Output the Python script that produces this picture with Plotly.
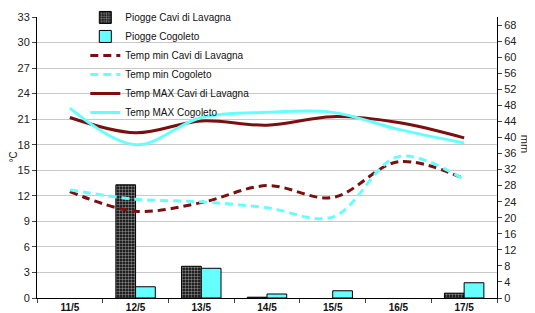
import plotly.graph_objects as go

days = ["11/5", "12/5", "13/5", "14/5", "15/5", "16/5", "17/5"]
rain_lavagna = [None, 28.2, 7.9, 0.2, None, None, 1.2]
rain_cogoleto = [None, 2.8, 7.4, 1.0, 1.8, None, 3.8]
tmin_lavagna = [12.5, 10.2, 11.2, 13.2, 11.8, 16.0, 14.0]
tmin_cogoleto = [12.7, 11.6, 11.3, 10.6, 9.5, 16.6, 13.9]
tmax_lavagna = [21.2, 19.4, 20.8, 20.3, 21.3, 20.6, 18.8]
tmax_cogoleto = [22.3, 18.0, 21.2, 21.8, 21.8, 19.8, 18.2]

RED = "#7b0f0f"
CYAN = "#66ffff"

fig = go.Figure()
fig.add_trace(go.Bar(x=days, y=rain_lavagna, name="Piogge Cavi di Lavagna", yaxis="y",
                     marker=dict(color="black", line=dict(color="black", width=1),
                                 pattern=dict(shape=".", bgcolor="black", fgcolor="white",
                                              size=3, solidity=0.5))))
fig.add_trace(go.Bar(x=days, y=rain_cogoleto, name="Piogge Cogoleto", yaxis="y",
                     marker=dict(color=CYAN, line=dict(color="black", width=1))))
fig.add_trace(go.Scatter(x=days, y=tmin_lavagna, name="Temp min Cavi di Lavagna", yaxis="y2",
                         mode="lines", line=dict(color=RED, width=3, dash="8px,5px", shape="spline")))
fig.add_trace(go.Scatter(x=days, y=tmin_cogoleto, name="Temp min Cogoleto", yaxis="y2",
                         mode="lines", line=dict(color=CYAN, width=3, dash="8px,5px", shape="spline")))
fig.add_trace(go.Scatter(x=days, y=tmax_lavagna, name="Temp MAX Cavi di Lavagna", yaxis="y2",
                         mode="lines", line=dict(color=RED, width=3, shape="spline")))
fig.add_trace(go.Scatter(x=days, y=tmax_cogoleto, name="Temp MAX Cogoleto", yaxis="y2",
                         mode="lines", line=dict(color=CYAN, width=3, shape="spline")))

fig.update_layout(
    width=535, height=313,
    margin=dict(l=29, r=46, t=9, b=23, autoexpand=False),
    paper_bgcolor="white", plot_bgcolor="white",
    font=dict(family="Liberation Sans, Arial", size=11, color="#222"),
    barmode="group", bargap=0.4, bargroupgap=0,
    showlegend=True,
    legend=dict(x=0.105, y=1.05, xanchor="left", yanchor="top", bgcolor="rgba(0,0,0,0)",
                font=dict(size=10, color="#111"), tracegroupgap=0,
                traceorder="normal"),
    xaxis=dict(type="category", tickson="boundaries", ticks="outside", ticklen=4,
               showline=True, linecolor="black", linewidth=1, showgrid=False, automargin=False,
               tickfont=dict(size=10, color="#111"), tickprefix="<b>", ticksuffix="</b>"),
    yaxis=dict(side="right", range=[0, 70], tick0=0, dtick=4, ticks="outside", ticklen=4,
               showline=True, linecolor="black", linewidth=1, showgrid=False, zeroline=False,
               automargin=False, tickfont=dict(size=11)),
    yaxis2=dict(overlaying="y", side="left", range=[0, 33], tick0=0, dtick=3, ticks="outside",
                ticklen=4, showline=True, linecolor="black", linewidth=1, showgrid=True,
                gridcolor="#c8c8c8", gridwidth=1, zeroline=False, automargin=False,
                tickfont=dict(size=11)),
    annotations=[
        dict(text="°C", x=-0.052, y=0.5, xref="paper", yref="paper", textangle=-90,
             showarrow=False, font=dict(size=10), xanchor="center"),
        dict(text="mm", x=1.06, y=0.55, xref="paper", yref="paper", textangle=90,
             showarrow=False, font=dict(size=11), xanchor="center"),
    ],
)

fig.write_html("out.html")
